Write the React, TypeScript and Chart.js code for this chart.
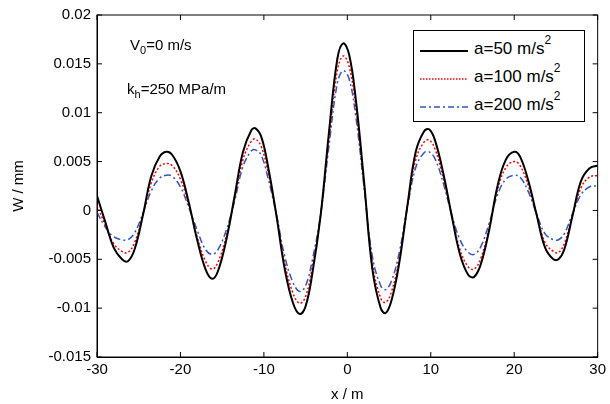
import React, { useEffect, useRef } from 'react';
import { Chart, registerables } from 'chart.js';

Chart.register(...registerables);

const xs = [-30, -29, -28, -27, -26.3, -25.5, -24.5, -23.5, -22.5, -21.7, -21, -20, -19, -18, -17, -16.2, -15.5, -14.5, -13.5, -12.5, -11.5, -11, -10.3, -9.5, -8.5, -7.5, -6.5, -5.7, -5, -4.2, -3.2, -2.2, -1.2, -0.5, 0.2, 1, 2, 3, 4, 4.6, 5.3, 6.2, 7.2, 8.2, 9.2, 9.8, 10.5, 11.5, 12.5, 13.5, 14.5, 15.2, 16, 17, 18, 19, 20, 20.7, 21.7, 22.7, 23.7, 24.7, 25.3, 26, 27, 28, 29, 30];
const w50 = [0.0015, -0.0012, -0.0038, -0.005, -0.0052, -0.004, -0.0005, 0.0035, 0.0055, 0.006, 0.0057, 0.004, 0.0008, -0.003, -0.006, -0.007, -0.0062, -0.003, 0.0015, 0.006, 0.0082, 0.0084, 0.0075, 0.0045, -0.0005, -0.006, -0.0095, -0.0106, -0.0098, -0.0065, -0.0005, 0.008, 0.0155, 0.0171, 0.016, 0.0115, 0.003, -0.006, -0.01, -0.0105, -0.0092, -0.0055, 0.0005, 0.006, 0.0081, 0.0083, 0.0072, 0.0038, -0.0005, -0.0045, -0.0066, -0.0068, -0.0055, -0.002, 0.0025, 0.0052, 0.006, 0.0055, 0.003, -0.0005, -0.0038, -0.005, -0.005, -0.004, -0.0005, 0.003, 0.0043, 0.0046];
const w100 = [0.0005, -0.0015, -0.0034, -0.0042, -0.0043, -0.0033, -0.0005, 0.0028, 0.0045, 0.0048, 0.0046, 0.0032, 0.0005, -0.0027, -0.0052, -0.006, -0.0053, -0.0026, 0.0012, 0.0052, 0.0071, 0.0073, 0.0065, 0.0039, -0.0005, -0.0054, -0.0085, -0.0095, -0.0088, -0.0058, -0.0005, 0.0073, 0.0143, 0.0158, 0.0148, 0.0106, 0.0027, -0.0054, -0.009, -0.0094, -0.0083, -0.005, 0.0004, 0.0052, 0.007, 0.0072, 0.0063, 0.0033, -0.0005, -0.004, -0.0058, -0.006, -0.0049, -0.0018, 0.0021, 0.0044, 0.005, 0.0046, 0.0025, -0.0005, -0.0033, -0.0042, -0.0043, -0.0034, -0.0005, 0.0023, 0.0034, 0.0036];
const w200 = [-0.0002, -0.0017, -0.0027, -0.003, -0.003, -0.0023, -0.0003, 0.002, 0.0033, 0.0036, 0.0035, 0.0024, 0.0003, -0.002, -0.004, -0.0045, -0.004, -0.002, 0.001, 0.0045, 0.0061, 0.0062, 0.0056, 0.0033, -0.0004, -0.0047, -0.0074, -0.0083, -0.0077, -0.0051, -0.0004, 0.0066, 0.013, 0.0143, 0.0135, 0.0097, 0.0024, -0.0047, -0.0077, -0.0081, -0.0072, -0.0044, 0.0003, 0.0044, 0.0059, 0.006, 0.0053, 0.0028, -0.0004, -0.003, -0.0043, -0.0045, -0.0037, -0.0013, 0.0016, 0.0032, 0.0036, 0.0034, 0.0019, -0.0004, -0.0024, -0.003, -0.003, -0.0024, -0.0003, 0.0016, 0.0024, 0.0025];

const font = { family: 'Liberation Sans, Arial, sans-serif', size: 15 };

const frame = {
  id: 'frame',
  afterDraw(chart: Chart) {
    const { ctx, chartArea: a, scales } = chart;
    ctx.save();
    ctx.strokeStyle = '#000';
    ctx.lineWidth = 1;
    ctx.strokeRect(a.left, a.top, a.right - a.left, a.bottom - a.top);
    ctx.beginPath();
    for (let v = -30; v <= 30; v += 10) {
      const px = scales.x.getPixelForValue(v);
      ctx.moveTo(px, a.bottom); ctx.lineTo(px, a.bottom - 5);
      ctx.moveTo(px, a.top); ctx.lineTo(px, a.top + 5);
    }
    for (let i = -3; i <= 4; i++) {
      const py = scales.y.getPixelForValue(i * 0.005);
      ctx.moveTo(a.left, py); ctx.lineTo(a.left + 5, py);
      ctx.moveTo(a.right, py); ctx.lineTo(a.right - 5, py);
    }
    ctx.stroke();
    ctx.restore();
  },
};

const App: React.FC = () => {
  const ref = useRef<HTMLCanvasElement>(null);

  useEffect(() => {
    document.body.style.margin = '0';
    if (!ref.current) return;
    const mk = (ys: number[]) => xs.map((x, i) => ({ x, y: ys[i] }));
    const chart = new Chart(ref.current, {
      type: 'line',
      data: {
        datasets: [
          { data: mk(w50), borderColor: '#000', borderWidth: 2, pointRadius: 0, tension: 0.4 },
          { data: mk(w100), borderColor: '#ff0000', borderWidth: 1.5, borderDash: [2, 2], pointRadius: 0, tension: 0.4 },
          { data: mk(w200), borderColor: '#3355bb', borderWidth: 1.5, borderDash: [7, 3, 2, 3], pointRadius: 0, tension: 0.4 },
        ],
      },
      options: {
        animation: false,
        responsive: false,
        layout: { padding: { left: 8, right: 7, top: 15, bottom: 0 } },
        plugins: { legend: { display: false }, tooltip: { enabled: false } },
        scales: {
          x: {
            type: 'linear', min: -30, max: 30,
            ticks: { stepSize: 10, color: '#000', font, maxRotation: 0, padding: 4 },
            grid: { drawOnChartArea: false, drawTicks: false, color: '#000' },
            border: { color: '#000' },
            title: { display: true, text: 'x / m', color: '#000', font, padding: 0 },
            afterFit: (s: any) => { s.height = 47; },
          },
          y: {
            min: -0.015, max: 0.02,
            ticks: { stepSize: 0.005, color: '#000', font, padding: 6, callback: (v: any) => String(Math.round(Number(v) * 1000) / 1000) },
            grid: { drawOnChartArea: false, drawTicks: false, color: '#000' },
            border: { color: '#000' },
            title: { display: true, text: 'W / mm', color: '#000', font, padding: 2 },
            afterFit: (s: any) => { s.width = 89; },
          },
        },
      },
      plugins: [frame],
    });
    return () => chart.destroy();
  }, []);

  const txt: React.CSSProperties = { position: 'absolute', fontFamily: font.family, fontSize: 15, color: '#000', whiteSpace: 'nowrap' };
  const row: React.CSSProperties = { display: 'flex', alignItems: 'center', height: 28 };
  const sup: React.CSSProperties = { fontSize: 12, verticalAlign: 'top', position: 'relative', top: -6 };
  const line = (color: string, dash: string, w: number) => (
    <svg width={48} height={10} style={{ marginRight: 6, marginTop: 4 }}>
      <line x1={0} y1={5} x2={48} y2={5} stroke={color} strokeWidth={w} strokeDasharray={dash} />
    </svg>
  );

  return (
    <div style={{ position: 'relative', width: 610, height: 404, background: '#fff' }}>
      <canvas ref={ref} width={610} height={404} />
      <div style={{ ...txt, left: 130, top: 36 }}>V<sub style={{ fontSize: 11 }}>0</sub>=0 m/s</div>
      <div style={{ ...txt, left: 127, top: 80 }}>k<sub style={{ fontSize: 11 }}>h</sub>=250 MPa/m</div>
      <div style={{ ...txt, fontSize: 17, left: 413, top: 30, width: 172, height: 92, border: '1px solid #000', background: '#fff', boxSizing: 'border-box', padding: '4px 6px' }}>
        <div style={row}>{line('#000', '', 2)}<span>a=50 m/s<span style={sup}>2</span></span></div>
        <div style={row}>{line('#ff0000', '1.5 1.5', 1.5)}<span>a=100 m/s<span style={sup}>2</span></span></div>
        <div style={row}>{line('#3355bb', '6 3 2 3', 1.5)}<span>a=200 m/s<span style={sup}>2</span></span></div>
      </div>
    </div>
  );
};

export default App;
